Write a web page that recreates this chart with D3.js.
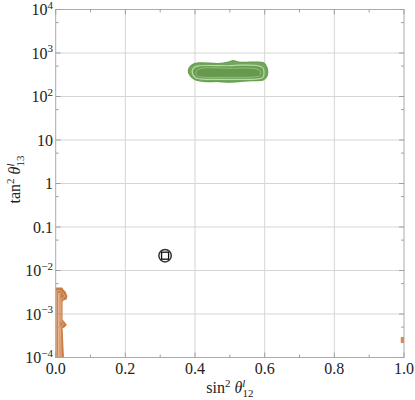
<!DOCTYPE html>
<html><head><meta charset="utf-8">
<script src="https://cdn.jsdelivr.net/npm/d3@7"></script>
<style>body{margin:0;background:#fff} svg{display:block}</style>
</head><body>
<script>
// ---- data ----
const xTicks = [0, 0.2, 0.4, 0.6, 0.8, 1.0];
const xTickLabels = ["0.0", "0.2", "0.4", "0.6", "0.8", "1.0"];
const xMinor = [0.1, 0.3, 0.5, 0.7, 0.9];
const yTicks = [1e4, 1e3, 1e2, 10, 1, 0.1, 1e-2, 1e-3, 1e-4];
const yTickBase = ["10", "10", "10", "10", "1", "0.1", "10", "10", "10"];
const yTickExp = ["4", "3", "2", "", "", "", "−2", "−3", "−4"];
const yMinor = [5e3, 5e2, 50, 5, 0.5, 0.05, 5e-3, 5e-4];

// green region (sin^2, tan^2) contours
const greenOuter = [[0.381,406],[0.391,530],[0.410,590],[0.467,570],[0.496,615],[0.510,665],[0.525,615],[0.563,611],[0.597,590],[0.607,445],[0.607,305],[0.597,245],[0.563,232],[0.525,222],[0.496,214],[0.467,222],[0.429,222],[0.400,245],[0.386,305]];
const greenMid = [[0.392,385],[0.400,477],[0.415,510],[0.501,510],[0.530,525],[0.581,510],[0.595,452],[0.598,347],[0.595,276],[0.581,254],[0.501,248],[0.415,254],[0.400,276]];
const greenInner = [[0.403,366],[0.415,435],[0.501,445],[0.573,435],[0.587,385],[0.587,305],[0.573,284],[0.501,277],[0.415,284],[0.406,305]];

// brown region contours
const brownOuter = [[0,1e-4],[0,3.96e-3],[0.018,3.96e-3],[0.021,3.56e-3],[0.027,3.2e-3],[0.032,2.6e-3],[0.030,2.2e-3],[0.021,2.1e-3],[0.018,1.89e-3],[0.018,7.3e-4],[0.024,6.5e-4],[0.030,5.6e-4],[0.024,5.0e-4],[0.018,4.8e-4],[0.022,1e-4]];
const brownMid = [[0.003,1e-4],[0.003,3.4e-3],[0.012,3.5e-3],[0.020,3.0e-3],[0.026,2.6e-3],[0.022,2.35e-3],[0.015,2.2e-3],[0.015,7e-4],[0.022,6e-4],[0.018,5.2e-4],[0.014,4.8e-4],[0.016,1e-4]];
const brownInner = [[0.008,1e-4],[0.008,3.0e-3],[0.012,3.0e-3],[0.012,1e-4]];
const brownEdge = [[0.992,2.2e-4],[1.0,2.2e-4],[1.0,2.9e-4],[0.992,2.9e-4]];

const bestFit = [[0.314, 0.0219]];

// ---- chart ----
const W = 415, H = 400;
const x = d3.scaleLinear().domain([0, 1]).range([55.7, 404]);
const y = d3.scaleLog().domain([1e-4, 1e4]).range([357.5, 9.5]);
const [x0, x1] = x.range(), [y0, y1] = y.range();

const svg = d3.select("body").append("svg").attr("width", W).attr("height", H)
  .style("font-family", "'Liberation Serif','Times New Roman',serif");

svg.append("defs").append("clipPath").attr("id", "clip")
  .append("rect").attr("x", x0).attr("y", y1).attr("width", x1 - x0).attr("height", y0 - y1);

// grid
const grid = svg.append("g").attr("stroke", "#d6d6d6").attr("stroke-width", 1);
grid.selectAll(".gx").data(xTicks.slice(1, -1)).join("line")
  .attr("x1", d => x(d)).attr("x2", d => x(d)).attr("y1", y1).attr("y2", y0);
grid.selectAll(".gy").data(yTicks.slice(1, -1)).join("line")
  .attr("y1", d => y(d)).attr("y2", d => y(d)).attr("x1", x0).attr("x2", x1);

// contours
const smooth = d3.line().x(d => x(d[0])).y(d => y(d[1])).curve(d3.curveCatmullRomClosed.alpha(0.5));
const lineC = d3.line().x(d => x(d[0])).y(d => y(d[1])).curve(d3.curveLinearClosed);
const plot = svg.append("g").attr("clip-path", "url(#clip)");

plot.append("path").attr("d", smooth(greenOuter)).attr("fill", "#72a85b").attr("stroke", "#6a9f52").attr("stroke-width", 1.4);
plot.append("path").attr("d", smooth(greenMid)).attr("fill", "#6a9e50").attr("stroke", "#b9d9aa").attr("stroke-width", 1.2);
plot.append("path").attr("d", smooth(greenInner)).attr("fill", "#67994c").attr("stroke", "#8fbf7b").attr("stroke-width", 1);

plot.append("path").attr("d", lineC(brownOuter)).attr("fill", "#c47a45").attr("stroke", "#c9804c").attr("stroke-width", 1.2);
plot.append("path").attr("d", lineC(brownMid)).attr("fill", "#c57b46").attr("stroke", "#e4ab80").attr("stroke-width", 1);
plot.append("path").attr("d", lineC(brownInner)).attr("fill", "#c47a45").attr("stroke", "#e9b890").attr("stroke-width", 1);
plot.append("path").attr("d", lineC(brownEdge)).attr("fill", "#d08a55").attr("stroke", "#c47a45").attr("stroke-width", 0.8);

// frame
svg.append("rect").attr("x", x0).attr("y", y1).attr("width", x1 - x0).attr("height", y0 - y1)
  .attr("fill", "none").attr("stroke", "#ababab").attr("stroke-width", 1);

// ticks
const tk = svg.append("g").attr("stroke", "#a0a0a0").attr("stroke-width", 1);
const xt = xTicks.concat(xMinor);
const xLen = d => (xMinor.includes(d) ? 3 : 5);
tk.selectAll(".tb").data(xt).join("line").attr("x1", d => x(d)).attr("x2", d => x(d)).attr("y1", y0).attr("y2", d => y0 - xLen(d));
tk.selectAll(".tt").data(xt).join("line").attr("x1", d => x(d)).attr("x2", d => x(d)).attr("y1", y1).attr("y2", d => y1 + xLen(d));
const yt = yTicks.concat(yMinor);
const yLen = d => (yMinor.includes(d) ? 3 : 5);
tk.selectAll(".tl").data(yt).join("line").attr("y1", d => y(d)).attr("y2", d => y(d)).attr("x1", x0).attr("x2", d => x0 + yLen(d));
tk.selectAll(".tr").data(yt).join("line").attr("y1", d => y(d)).attr("y2", d => y(d)).attr("x1", x1).attr("x2", d => x1 - yLen(d));

// best fit marker
svg.selectAll(".bfc").data(bestFit).join("circle")
  .attr("cx", d => x(d[0])).attr("cy", d => y(d[1])).attr("r", 6.2)
  .attr("fill", "none").attr("stroke", "#333").attr("stroke-width", 1.5);
svg.selectAll(".bfs").data(bestFit).join("rect")
  .attr("x", d => x(d[0]) - 3.5).attr("y", d => y(d[1]) - 3.5).attr("width", 7).attr("height", 7)
  .attr("fill", "none").attr("stroke", "#111").attr("stroke-width", 1.3);

// x tick labels
svg.selectAll(".xl").data(xTicks).join("text")
  .attr("x", d => x(d)).attr("y", 373.5).attr("text-anchor", "middle")
  .attr("font-size", 16).attr("fill", "#222")
  .text((d, i) => xTickLabels[i]);

// y tick labels
const yl = svg.selectAll(".yl").data(yTicks).join("text")
  .attr("x", 53).attr("y", d => y(d) + 5.5).attr("text-anchor", "end")
  .attr("font-size", 16).attr("fill", "#222");
yl.append("tspan").text((d, i) => yTickBase[i]);
yl.filter((d, i) => yTickExp[i] !== "").append("tspan")
  .attr("dy", -6.5).attr("font-size", 11).text(d => yTickExp[yTicks.indexOf(d)]);

// axis titles
const xt1 = svg.append("text").attr("x", (x0 + x1) / 2).attr("y", 393).attr("text-anchor", "middle")
  .attr("font-size", 16).attr("fill", "#222");
xt1.append("tspan").text("sin");
xt1.append("tspan").attr("dy", -6.5).attr("font-size", 11).text("2");
xt1.append("tspan").attr("dy", 6.5).text(" ");
xt1.append("tspan").attr("font-style", "italic").text("θ");
xt1.append("tspan").attr("dy", -6.5).attr("font-size", 11).attr("font-style", "italic").text("l");
xt1.append("tspan").attr("dx", -3).attr("dy", 10.5).attr("font-size", 11).text("12");

const yt1 = svg.append("text").attr("transform", `translate(20,${(y0 + y1) / 2 - 4}) rotate(-90)`)
  .attr("text-anchor", "middle").attr("font-size", 16).attr("fill", "#222");
yt1.append("tspan").text("tan");
yt1.append("tspan").attr("dy", -6.5).attr("font-size", 11).text("2");
yt1.append("tspan").attr("dy", 6.5).text(" ");
yt1.append("tspan").attr("font-style", "italic").text("θ");
yt1.append("tspan").attr("dy", -6.5).attr("font-size", 11).attr("font-style", "italic").text("l");
yt1.append("tspan").attr("dx", -3).attr("dy", 10.5).attr("font-size", 11).text("13");
</script>
</body></html>
